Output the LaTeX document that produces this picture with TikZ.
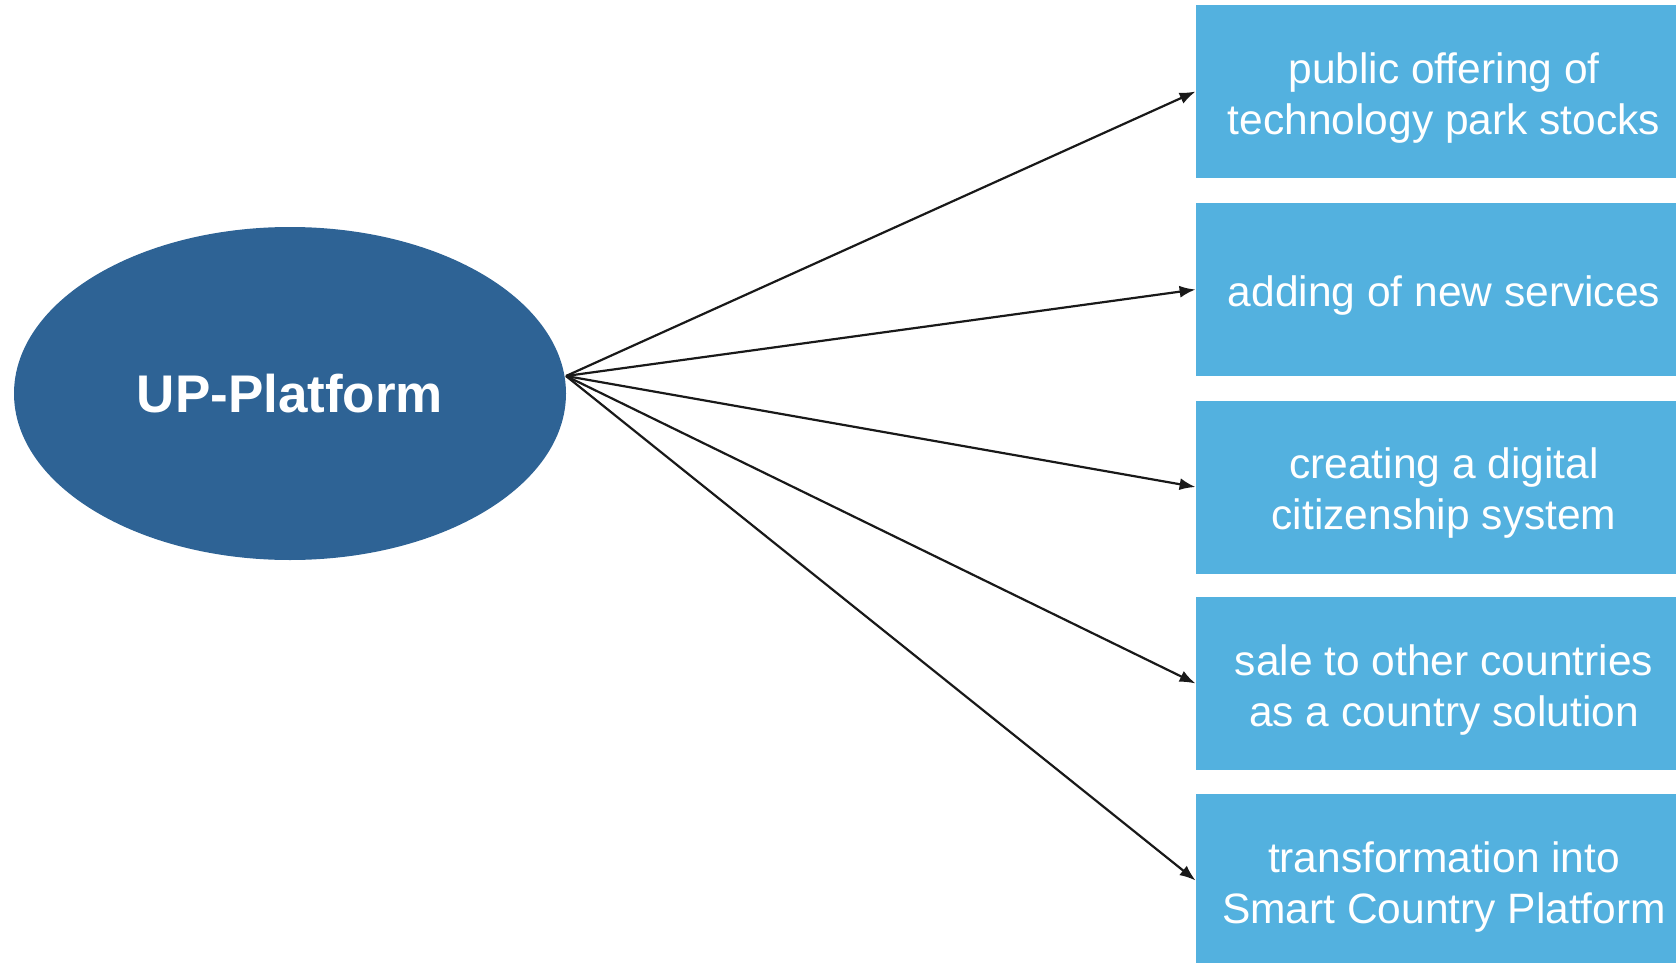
\documentclass[tikz,border=0pt]{standalone}
\usepackage{fontspec}
\setmainfont{Liberation Sans}
\usetikzlibrary{shapes.geometric,arrows.meta}

\definecolor{platblue}{HTML}{2E6395}
\definecolor{boxblue}{HTML}{53B1DF}

\tikzset{
  platform/.style={ellipse, fill=platblue, text=white, inner sep=0pt,
    minimum width=276pt, minimum height=166.5pt,
    font=\fontsize{26.5}{32}\selectfont\bfseries},
  goalbox/.style={rectangle, fill=boxblue, inner sep=0pt,
    minimum width=248pt, minimum height=86.5pt},
  goaltext/.style={text=white, inner sep=0pt, align=center, yshift=-3.2pt,
    font=\fontsize{21.25}{25.5}\selectfont},
  arr/.style={-{Latex[length=8pt,width=6pt]}, line width=1.1pt, draw=black!90}
}

\begin{document}
\begin{tikzpicture}[x=0.5pt, y=-0.5pt]
\useasboundingbox (0,0) rectangle (1676,963);
\clip (0,0) rectangle (1676,963);

\node[platform] (up) at (290,393.5) {UP-Platform};
\coordinate (hub) at (566,376);

\node[goalbox] (offering) at (1444,91.5) {};
\node[goalbox] (services) at (1444,289.5) {};
\node[goalbox] (citizen) at (1444,487) {};
\node[goalbox] (sale) at (1444,683.5) {};
\node[goalbox] (smart) at (1444,880.5) {};

\node[goaltext] (offering text) at (offering) {public offering of\\technology park stocks};
\node[goaltext] (services text) at (services) {adding of new services};
\node[goaltext] (citizen text) at (citizen) {creating a digital\\citizenship system};
\node[goaltext] (sale text) at (sale) {sale to other countries\\as a country solution};
\node[goaltext] (smart text) at (smart) {transformation into\\Smart Country Platform};

\foreach \n in {offering,services,citizen,sale,smart}
  \draw[arr] (hub) -- (\n.west);
\end{tikzpicture}
\end{document}
